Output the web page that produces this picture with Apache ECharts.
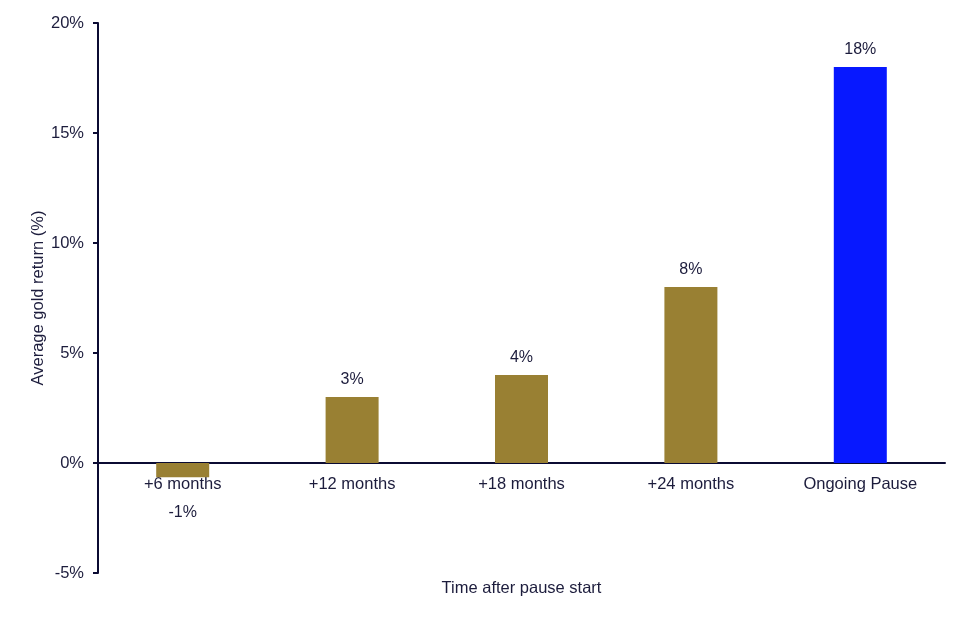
<!DOCTYPE html>
<html><head><meta charset="utf-8">
<script src="https://cdn.jsdelivr.net/npm/echarts@6/dist/echarts.min.js"></script>
<style>html,body{margin:0;padding:0;background:#fff}#c{width:967px;height:622px}</style>
</head><body><div id="c"></div>
<script>
const categories = ['+6 months', '+12 months', '+18 months', '+24 months', 'Ongoing Pause'];
const values = [-0.65, 3, 4, 8, 18];
const labels = ['-1%', '3%', '4%', '8%', '18%'];
const barColors = ['#998033', '#998033', '#998033', '#998033', '#0718FF'];
const yTicks = { min: -5, max: 20, interval: 5 };

const textColor = '#1c1c3c';
const axisColor = '#0b0b33';
const font = 'Liberation Sans';

const chart = echarts.init(document.getElementById('c'), null, { renderer: 'canvas' });
chart.setOption({
  animation: false,
  grid: { left: 98, right: 22, top: 23, bottom: 49, containLabel: false, outerBoundsMode: 'none' },
  xAxis: {
    type: 'category',
    data: categories,
    axisLine: { onZero: true, lineStyle: { color: axisColor, width: 2 } },
    axisTick: { show: false },
    axisLabel: { color: textColor, fontFamily: font, fontSize: 16.5, margin: -97 },
    name: 'Time after pause start',
    nameLocation: 'middle',
    nameGap: 7,
    nameMoveOverlap: false,
    nameTextStyle: { color: textColor, fontFamily: font, fontSize: 16.5 }
  },
  yAxis: {
    type: 'value',
    min: yTicks.min, max: yTicks.max, interval: yTicks.interval,
    splitLine: { show: false },
    axisLine: { show: true, lineStyle: { color: axisColor, width: 2 } },
    axisTick: { show: true, length: 5, lineStyle: { color: axisColor, width: 2 } },
    axisLabel: { color: textColor, fontFamily: font, fontSize: 16.5, margin: 14, formatter: v => v + '%' },
    name: 'Average gold return (%)',
    nameLocation: 'middle',
    nameGap: 51,
    nameMoveOverlap: false,
    nameTextStyle: { color: textColor, fontFamily: font, fontSize: 16.5 }
  },
  series: [{
    type: 'bar',
    barWidth: 53,
    data: values.map((v, i) => ({
      value: v,
      itemStyle: { color: barColors[i] },
      label: {
        show: true,
        position: v < 0 ? 'bottom' : 'top',
        distance: v < 0 ? 27 : 9,
        formatter: labels[i],
        color: textColor, fontFamily: font, fontSize: 16
      }
    }))
  }]
});
</script></body></html>
